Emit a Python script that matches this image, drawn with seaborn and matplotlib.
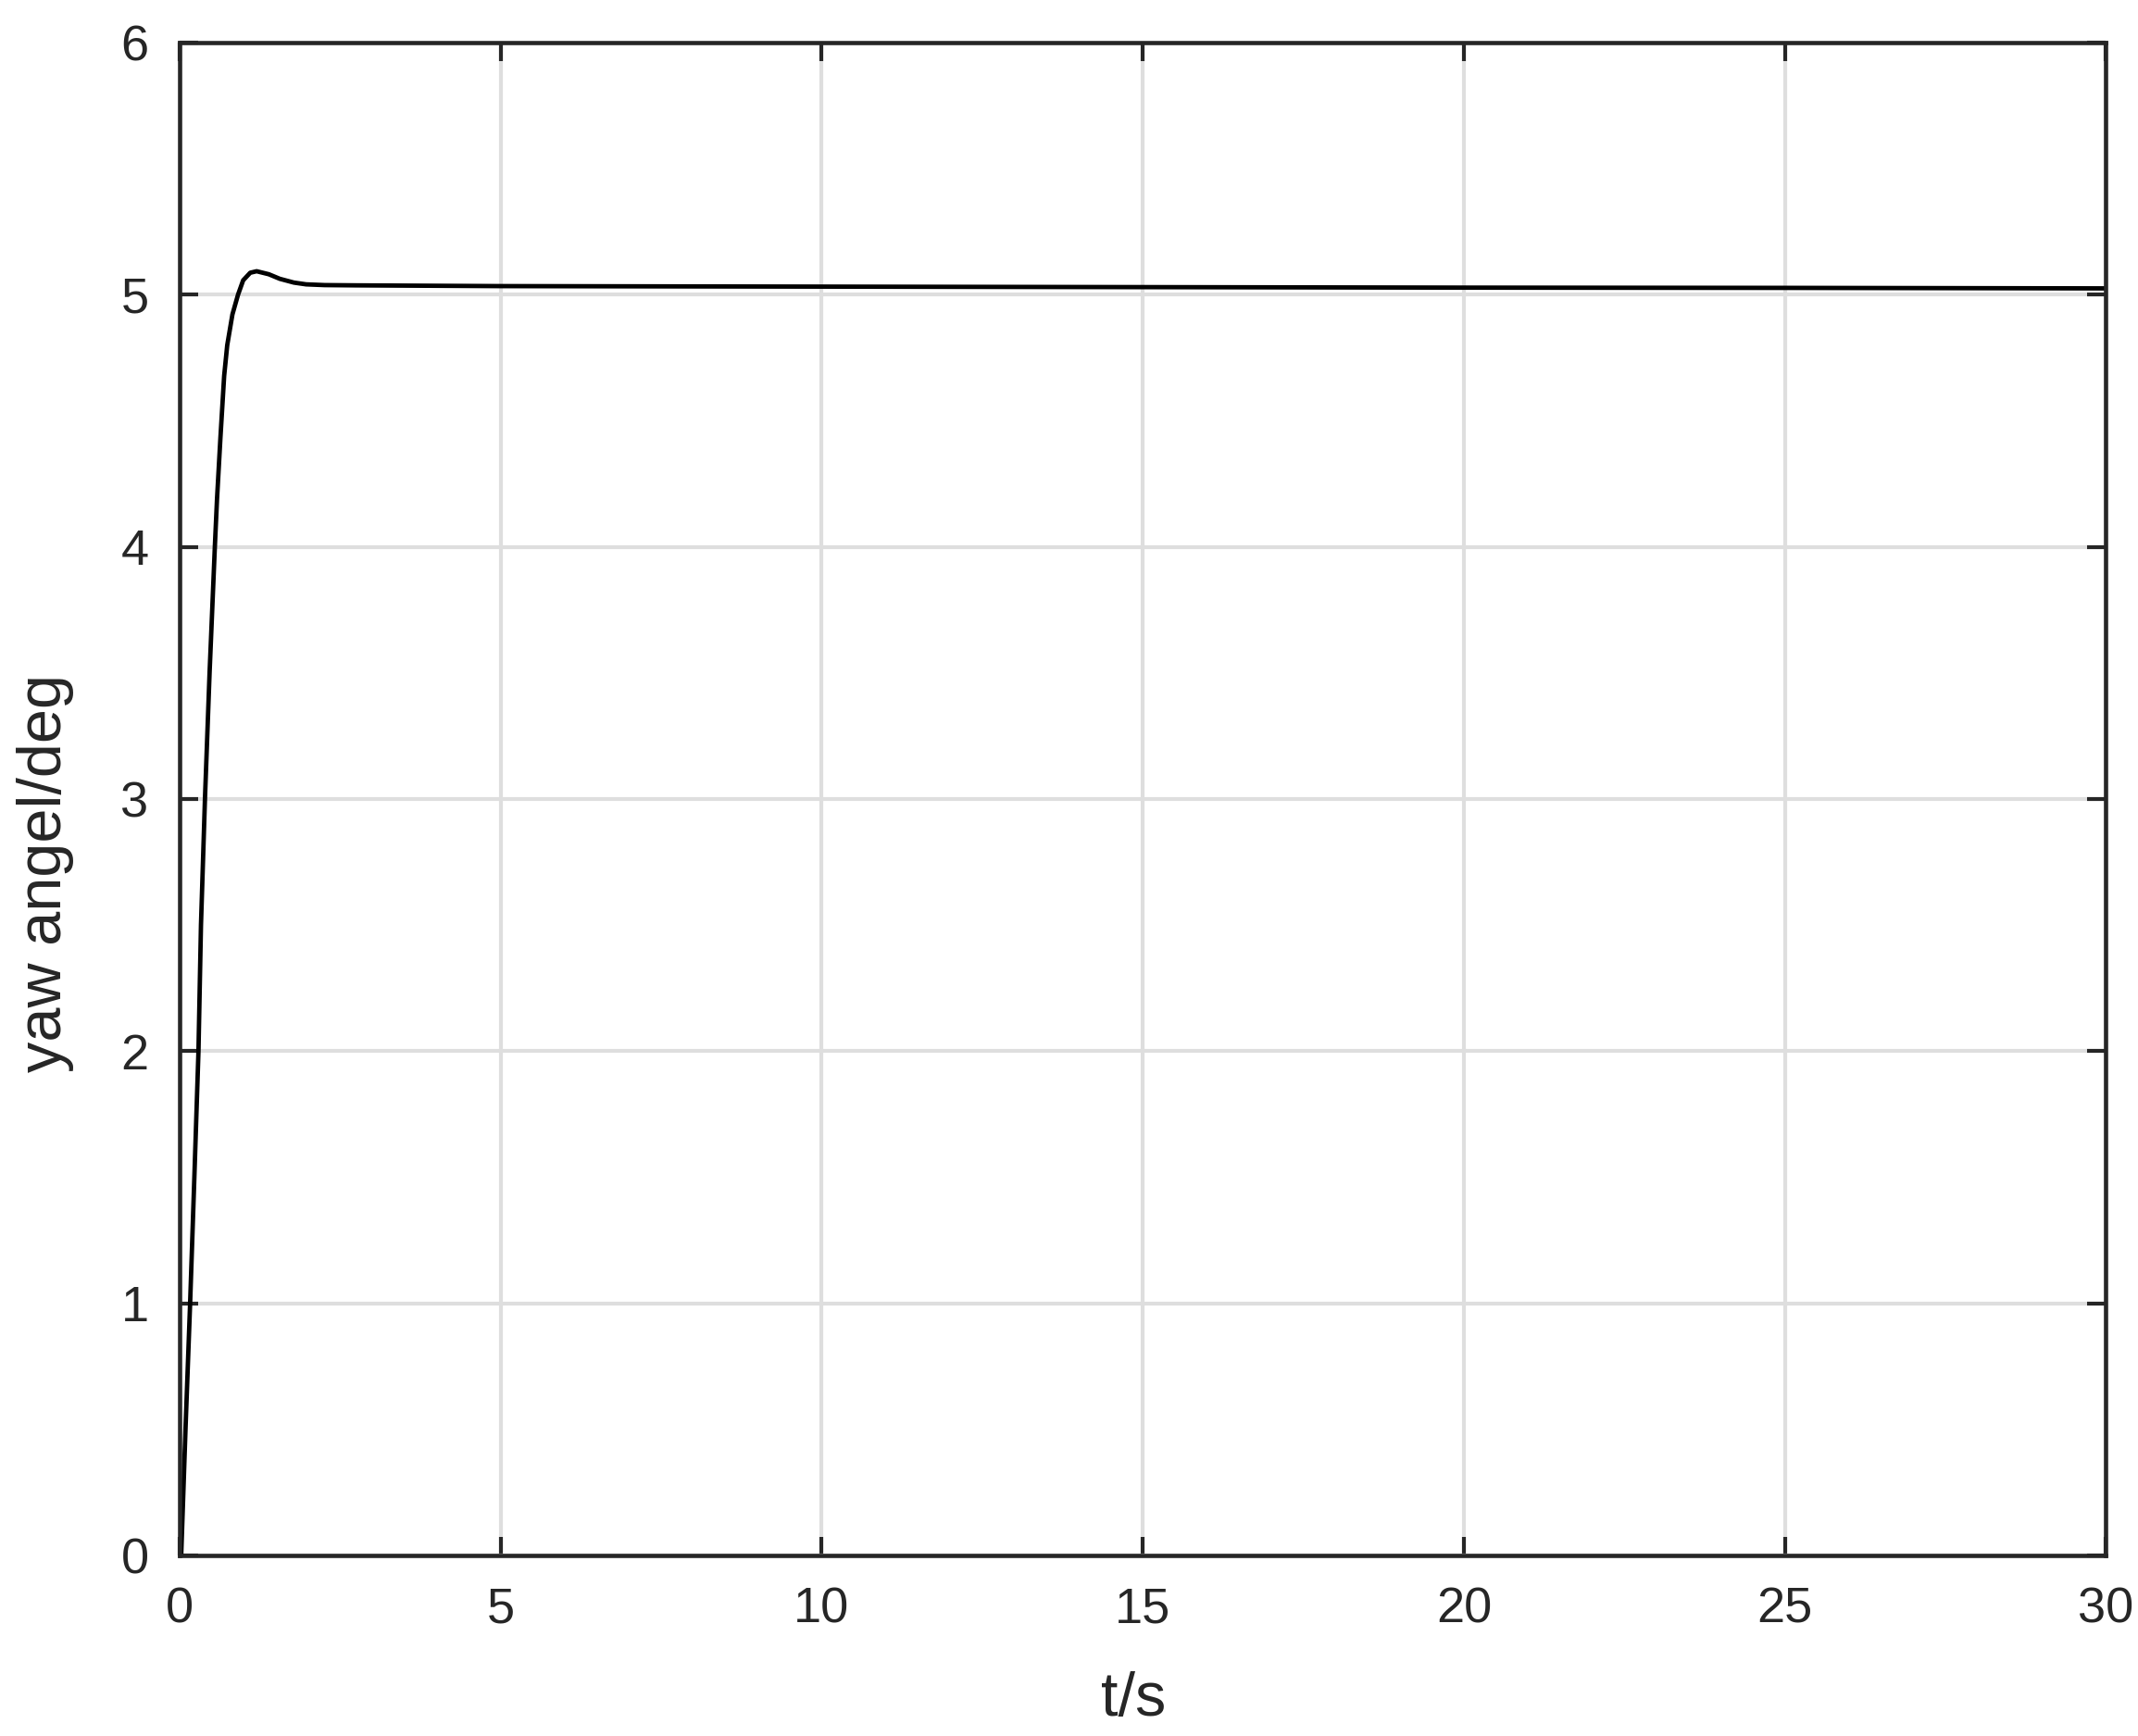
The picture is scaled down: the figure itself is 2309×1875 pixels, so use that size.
import seaborn as sns
import matplotlib.pyplot as plt
import pandas as pd

# values
t_s = [0, 0.025, 0.092, 0.164, 0.23, 0.294, 0.333, 0.395, 0.467, 0.549,
       0.583, 0.636, 0.694, 0.742, 0.823, 0.91, 0.99, 1.10, 1.20, 1.39,
       1.56, 1.78, 1.97, 2.26, 2.74, 5, 10, 15, 20, 25, 30]
yaw_deg = [0, 0, 0.5, 1.0, 1.5, 2.0, 2.5, 3.0, 3.5, 4.0,
           4.19, 4.433, 4.678, 4.80, 4.922, 5.0, 5.057, 5.087, 5.093, 5.081,
           5.063, 5.048, 5.041, 5.038, 5.037, 5.034, 5.032, 5.03, 5.028, 5.027, 5.025]
x_ticks = [0, 5, 10, 15, 20, 25, 30]
y_ticks = [0, 1, 2, 3, 4, 5, 6]

df = pd.DataFrame({'t': t_s, 'yaw': yaw_deg})

sns.set_theme(style='ticks')
plt.rcParams['font.family'] = ['Liberation Sans', 'DejaVu Sans']

fig = plt.figure(figsize=(2309 / 300, 1875 / 300), dpi=300)
ax = fig.add_axes([0.084, 0.104, 0.901, 0.8715])

ax.grid(True, color='#dedede', linewidth=1.0)
ax.set_axisbelow(True)

sns.lineplot(
    data=df
    , x='t'
    , y='yaw'
    , color='black'
    , linewidth=1.15
    , ax=ax
)

ax.set(
    xlim=(0, 30)
    , ylim=(0, 6)
    , xticks=x_ticks
    , yticks=y_ticks
)
ax.set_xlabel('t/s', fontsize=16, color='#262626', labelpad=10)
ax.set_ylabel('yaw angel/deg', fontsize=16, color='#262626', labelpad=12)
ax.xaxis.label.set_x(0.495)
ax.yaxis.label.set_y(0.451)

for s in ax.spines.values():
    s.set_visible(True)
    s.set_linewidth(1.1)
    s.set_color('#262626')

ax.tick_params(
    direction='in'
    , length=4.8
    , width=1.0
    , color='#262626'
    , labelsize=13
    , labelcolor='#262626'
    , top=True
    , right=True
    , pad=8
)

fig.savefig('out.png', dpi=300)
